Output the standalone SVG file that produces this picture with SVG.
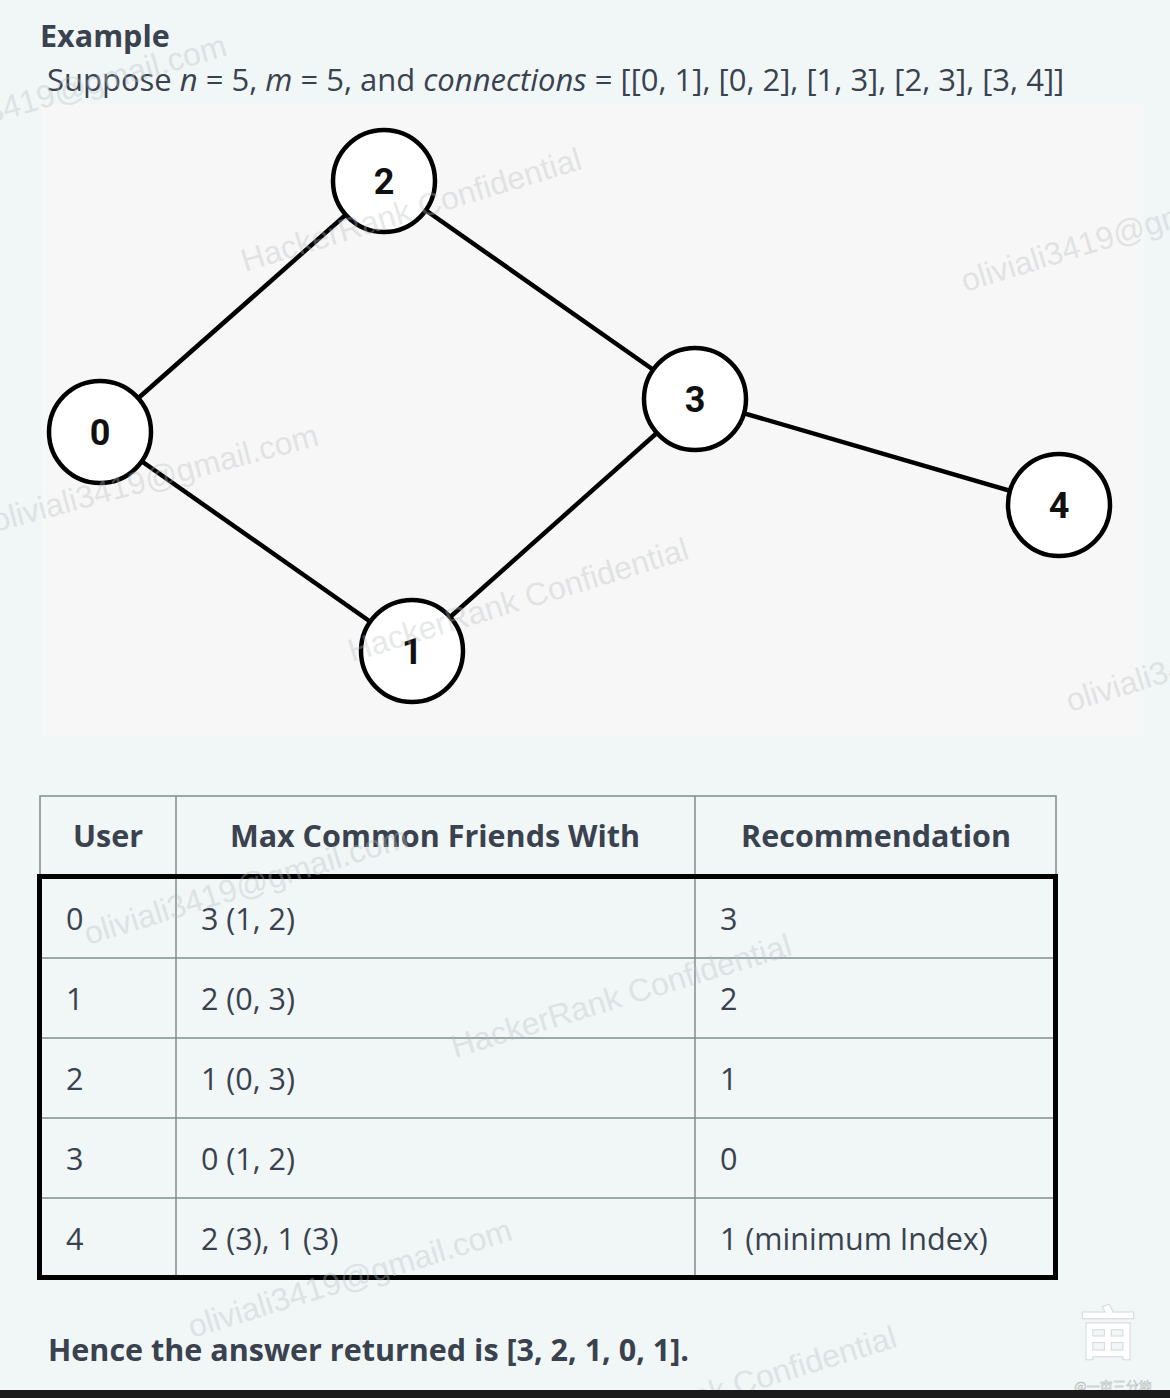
<svg xmlns="http://www.w3.org/2000/svg" width="1170" height="1398" viewBox="0 0 1170 1398">
  <style>
    .t { font-family: "Open Sans", "Noto Sans", sans-serif; fill: #39424e; }
    .hd { font-size: 30.5px; font-weight: 700; }
    .bd { font-size: 30.5px; }
    .node circle { fill: #ffffff; stroke: #000000; stroke-width: 4.5; }
    .node text { font-family: Roboto, "Liberation Sans", Arial, sans-serif; font-weight: 700; font-size: 36px; fill: #111111; text-anchor: middle; }
    .edge { stroke: #000000; stroke-width: 4.5; fill: none; }
    .grid { stroke: #7f8c8d; stroke-width: 1.5; fill: none; }
    .wm { font-family: "Liberation Sans", Arial, sans-serif; font-size: 32px; fill: #b9bec1; opacity: 0.35; }
  </style>
  <rect x="0" y="0" width="1170" height="1398" fill="#f1f6f7"/>

  <text class="t" x="40" y="47" font-size="30.5" font-weight="700">Example</text>
  <text class="t" x="47" y="91" font-size="31">Suppose <tspan font-style="italic">n</tspan> = 5, <tspan font-style="italic">m</tspan> = 5, and <tspan font-style="italic">connections</tspan> = [[0, 1], [0, 2], [1, 3], [2, 3], [3, 4]]</text>

  <rect x="42" y="104" width="1102" height="632" fill="#f7f7f7"/>

  <g id="connectors">
    <line class="edge" x1="100" y1="432" x2="384" y2="181"/>
    <line class="edge" x1="384" y1="181" x2="695" y2="399"/>
    <line class="edge" x1="100" y1="432" x2="412" y2="651"/>
    <line class="edge" x1="412" y1="651" x2="695" y2="399"/>
    <line class="edge" x1="695" y1="399" x2="1059" y2="505"/>
  </g>

  <g id="node-0" class="node"><circle cx="100" cy="432" r="51"/><text x="100" y="445">0</text></g>
  <g id="node-1" class="node"><circle cx="412" cy="651" r="51"/><text x="412" y="664">1</text></g>
  <g id="node-2" class="node"><circle cx="384" cy="181" r="51"/><text x="384" y="194">2</text></g>
  <g id="node-3" class="node"><circle cx="695" cy="399" r="51"/><text x="695" y="412">3</text></g>
  <g id="node-4" class="node"><circle cx="1059" cy="505" r="51"/><text x="1059" y="518">4</text></g>

  <g id="table">
    <rect class="grid" x="40" y="796" width="1016" height="481"/>
    <line class="grid" x1="176" y1="796" x2="176" y2="1277"/>
    <line class="grid" x1="695" y1="796" x2="695" y2="1277"/>
    <line class="grid" x1="40" y1="958" x2="1056" y2="958"/>
    <line class="grid" x1="40" y1="1038" x2="1056" y2="1038"/>
    <line class="grid" x1="40" y1="1118" x2="1056" y2="1118"/>
    <line class="grid" x1="40" y1="1198" x2="1056" y2="1198"/>
    <rect x="39.5" y="876.5" width="1016" height="401" fill="none" stroke="#000000" stroke-width="5"/>

    <text class="t hd" x="108" y="847" text-anchor="middle">User</text>
    <text class="t hd" x="435" y="847" text-anchor="middle">Max Common Friends With</text>
    <text class="t hd" x="876" y="847" text-anchor="middle">Recommendation</text>

    <text class="t bd" x="66" y="930">0</text>
    <text class="t bd" x="201" y="930">3 (1, 2)</text>
    <text class="t bd" x="720" y="930">3</text>

    <text class="t bd" x="66" y="1010">1</text>
    <text class="t bd" x="201" y="1010">2 (0, 3)</text>
    <text class="t bd" x="720" y="1010">2</text>

    <text class="t bd" x="66" y="1090">2</text>
    <text class="t bd" x="201" y="1090">1 (0, 3)</text>
    <text class="t bd" x="720" y="1090">1</text>

    <text class="t bd" x="66" y="1170">3</text>
    <text class="t bd" x="201" y="1170">0 (1, 2)</text>
    <text class="t bd" x="720" y="1170">0</text>

    <text class="t bd" x="66" y="1250">4</text>
    <text class="t bd" x="201" y="1250">2 (3), 1 (3)</text>
    <text class="t bd" x="720" y="1250">1 (minimum Index)</text>
  </g>

  <text class="t" x="48" y="1361" font-size="30.5" font-weight="700">Hence the answer returned is [3, 2, 1, 0, 1].</text>

  <g id="watermarks">
    <text class="wm" transform="translate(-95,148) rotate(-16)">oliviali3419@gmail.com</text>
    <text class="wm" transform="translate(245,272) rotate(-17)">HackerRank Confidential</text>
    <text class="wm" transform="translate(965,292) rotate(-17)">oliviali3419@gmail.com</text>
    <text class="wm" transform="translate(-5,532) rotate(-15)">oliviali3419@gmail.com</text>
    <text class="wm" transform="translate(352,662) rotate(-17)">HackerRank Confidential</text>
    <text class="wm" transform="translate(1070,712) rotate(-17)">oliviali3419@gmail.com</text>
    <text class="wm" transform="translate(88,945) rotate(-17)">oliviali3419@gmail.com</text>
    <text class="wm" transform="translate(455,1058) rotate(-17)">HackerRank Confidential</text>
    <text class="wm" transform="translate(192,1338) rotate(-17)">oliviali3419@gmail.com</text>
    <text class="wm" transform="translate(560,1450) rotate(-17)">HackerRank Confidential</text>
  </g>

  <g id="logo">
    <text x="1108" y="1354" font-family="'Noto Sans CJK SC', sans-serif" font-size="58" font-weight="700" fill="#ffffff" stroke="#d5d9db" stroke-width="1" text-anchor="middle">亩</text>
    <text x="1113" y="1391" font-family="'Noto Sans CJK SC', sans-serif" font-size="13" fill="#ffffff" stroke="#b0b4b7" stroke-width="0.5" text-anchor="middle">@一亩三分地</text>
  </g>

  <rect x="0" y="1390" width="1170" height="8" fill="#1b1b1b"/>
</svg>
